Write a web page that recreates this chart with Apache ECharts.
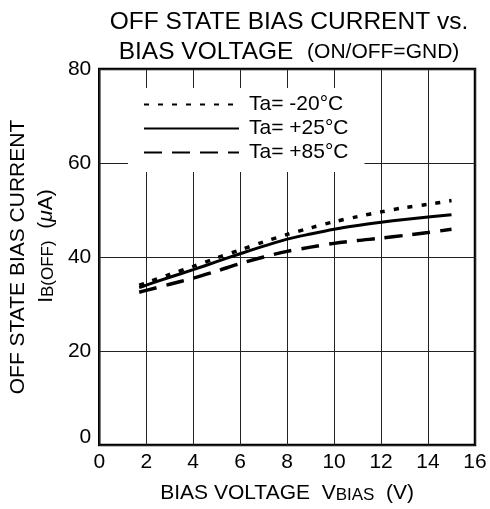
<!DOCTYPE html>
<html>
<head>
<meta charset="utf-8">
<script src="https://cdn.jsdelivr.net/npm/echarts@6/dist/echarts.min.js"></script>
<style>html,body{margin:0;padding:0;background:#fff}#c{width:490px;height:509px}</style>
</head>
<body>
<div id="c"></div>
<script>
const vbias   = [1.7, 2, 3, 4, 5, 6, 7, 8, 9, 10, 11, 12, 13, 14, 15];
const ibM20   = [34.0, 34.5, 36.3, 38.0, 39.8, 41.5, 43.2, 44.8, 46.2, 47.5, 48.6, 49.6, 50.5, 51.2, 52.0];
const ibP25   = [33.5, 34.0, 35.7, 37.3, 39.0, 40.7, 42.3, 43.8, 44.9, 45.9, 46.7, 47.4, 48.0, 48.5, 49.0];
const ibP85   = [32.5, 32.9, 34.2, 35.5, 37.0, 38.6, 40.0, 41.2, 42.1, 42.9, 43.5, 44.0, 44.6, 45.2, 45.9];
const seriesNames = ['Ta= -20°C', 'Ta= +25°C', 'Ta= +85°C'];

const zip = ys => vbias.map((x, i) => [x, ys[i]]);
const FONT = '"Liberation Sans", Arial, sans-serif';

const chart = echarts.init(document.getElementById('c'));
chart.setOption({
  animation: false,
  backgroundColor: '#fff',
  textStyle: { fontFamily: FONT, color: '#000' },
  title: {
    text: '{a|OFF STATE BIAS CURRENT vs.}\n{a|BIAS VOLTAGE  }{b|(ON/OFF=GND)}',
    left: 284, top: 2, textAlign: 'center',
    textStyle: {
      fontWeight: 'normal',
      rich: {
        a: { fontSize: 24.5, lineHeight: 30, color: '#000', fontFamily: FONT, fontWeight: 'normal' },
        b: { fontSize: 21, lineHeight: 30, color: '#000', fontFamily: FONT, fontWeight: 'normal' }
      }
    }
  },
  legend: {
    orient: 'vertical', left: 128, top: 88,
    itemWidth: 95, itemHeight: 14, itemGap: 3,
    backgroundColor: '#fff',
    padding: [6, 16, 9, 15],
    selectedMode: false,
    itemStyle: { opacity: 0 },
    data: seriesNames,
    textStyle: { fontSize: 21, color: '#000', fontFamily: FONT, padding: [0, 0, 0, 5] }
  },
  grid: {
    left: 96, right: 15, top: 69, bottom: 63,
    show: true, borderColor: '#000', borderWidth: 2.5
  },
  xAxis: {
    type: 'value', min: 0, max: 16, interval: 2,
    axisLine: { show: false }, axisTick: { show: false },
    splitLine: { show: true, lineStyle: { color: '#222', width: 1 } },
    axisLabel: { fontSize: 21, color: '#000', margin: 7, fontFamily: FONT },
    name: '{n|BIAS VOLTAGE  V}{s|BIAS}{n|  (V)}',
    nameLocation: 'middle', nameGap: 38,
    nameTextStyle: {
      rich: {
        n: { fontSize: 21, color: '#000', fontFamily: FONT },
        s: { fontSize: 17, color: '#000', fontFamily: FONT, padding: [4, 0, 0, 0] }
      }
    }
  },
  yAxis: {
    type: 'value', min: 0, max: 80, interval: 20,
    axisLine: { show: false }, axisTick: { show: false },
    splitLine: { show: true, lineStyle: { color: '#222', width: 1 } },
    axisLabel: {
      fontSize: 21, color: '#000', margin: 8, fontFamily: FONT,
      formatter: v => v === 0 ? '{z|0}' : String(v),
      rich: { z: { fontSize: 21, color: '#000', fontFamily: FONT, padding: [0, 0, 16, 0] } }
    },
    name: '{n|OFF STATE BIAS CURRENT}\n{p|I}{s|B(OFF)}{n|  (}{m|μ}{n|A)}',
    nameLocation: 'middle', nameRotate: 90, nameGap: 37,
    nameTextStyle: {
      align: 'center',
      rich: {
        n: { fontSize: 21, lineHeight: 28, color: '#000', fontFamily: FONT },
        p: { fontSize: 21, lineHeight: 28, color: '#000', fontFamily: FONT, padding: [0, 0, 0, 22] },
        s: { fontSize: 17, lineHeight: 28, color: '#000', fontFamily: FONT, padding: [4, 0, 0, 0] },
        m: { fontSize: 21, lineHeight: 28, color: '#000', fontFamily: FONT, fontStyle: 'italic' }
      }
    }
  },
  series: [
    {
      name: seriesNames[0], type: 'line', data: zip(ibM20), symbol: 'none', smooth: 0.3,
      lineStyle: { color: '#000', width: 3.5, type: [5, 9], cap: 'butt' }, itemStyle: { color: '#000' }
    },
    {
      name: seriesNames[1], type: 'line', data: zip(ibP25), symbol: 'none', smooth: 0.3,
      lineStyle: { color: '#000', width: 3, type: 'solid' }, itemStyle: { color: '#000' }
    },
    {
      name: seriesNames[2], type: 'line', data: zip(ibP85), symbol: 'none', smooth: 0.3,
      lineStyle: { color: '#000', width: 3.5, type: [18, 10], cap: 'butt' }, itemStyle: { color: '#000' }
    }
  ]
});
</script>
</body>
</html>
